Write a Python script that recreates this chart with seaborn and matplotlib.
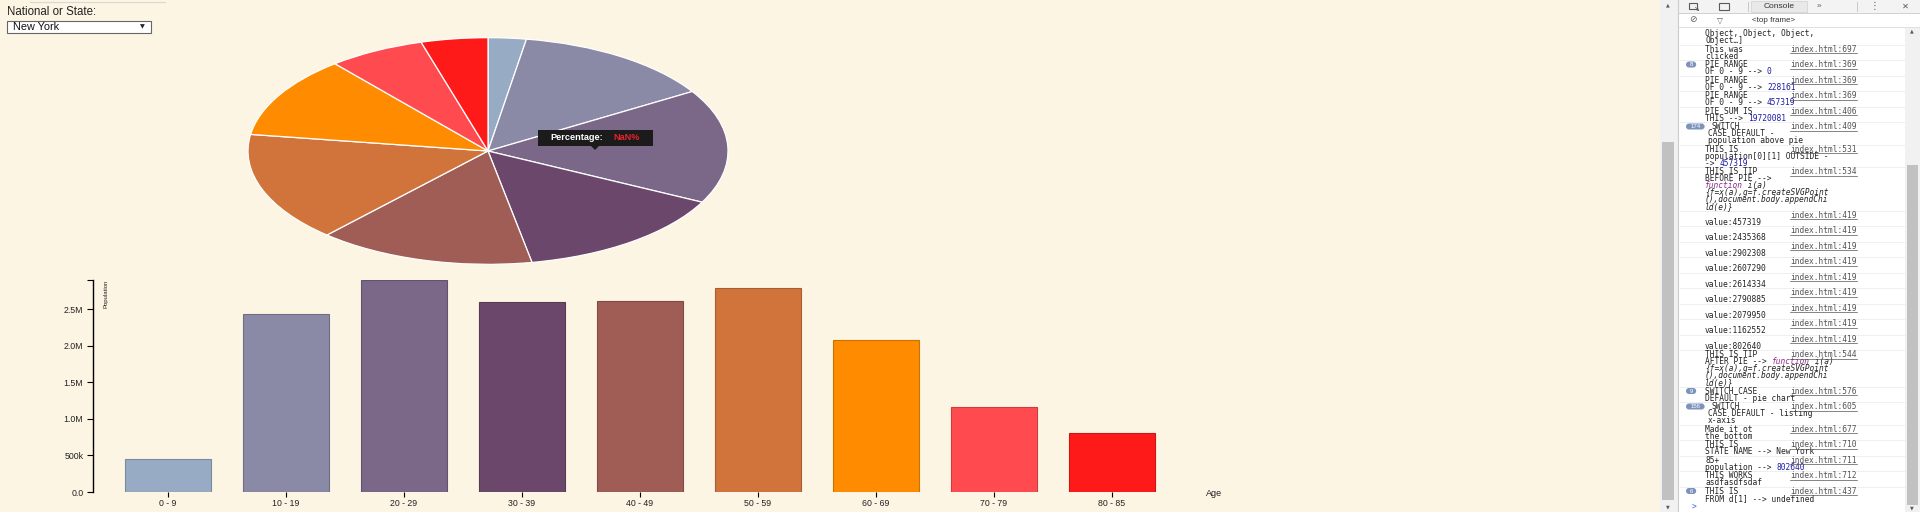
# ==========================================================
# Population by age group - pie + bar view of one state,
# with the browser console panel that sat next to it
# ==========================================================

import re

import matplotlib
matplotlib.use("Agg")
import matplotlib.pyplot as plt
import matplotlib.colors as mcolors
from matplotlib.patches import Rectangle, FancyBboxPatch, Polygon
import pandas as pd
import seaborn as sns


# ----------------------------------------------------------
# Data
# ----------------------------------------------------------
STATE = "New York"

AGE_GROUPS = ["0 - 9", "10 - 19", "20 - 29", "30 - 39", "40 - 49",
              "50 - 59", "60 - 69", "70 - 79", "80 - 85"]

POPULATION = [457319, 2435368, 2902308, 2607290, 2614334,
              2790885, 2079950, 1162552, 802640]

GROUP_COLORS = ["#98abc5", "#8a89a6", "#7b6888", "#6b486b", "#a05d56",
                "#d0743c", "#ff8c00", "#ff4b4f", "#ff1a1a"]

Y_TICKS = [0, 500000, 1000000, 1500000, 2000000, 2500000]
Y_TICK_LABELS = ["0.0", "500k", "1.0M", "1.5M", "2.0M", "2.5M"]

# console log: (badge, lines, link)
# ^..^ = number (blue), ~..~ = keyword (purple italic), `..` = italic
CONSOLE_MESSAGES = [
    (None, ["Object, Object, Object,", "Object, Object, Object,",
            "Object, Object, Object,", "Object\u2026]"], None),
    (None, ["This was", "clicked"], "index.html:697"),
    ("8", ["PIE RANGE", "OF 0 - 9 --> ^0^"], "index.html:369"),
    (None, ["PIE RANGE", "OF 0 - 9 --> ^228161^"], "index.html:369"),
    (None, ["PIE RANGE", "OF 0 - 9 --> ^457319^"], "index.html:369"),
    (None, ["PIE SUM IS", "THIS --> ^19720081^"], "index.html:406"),
    ("174", ["SWITCH", "CASE DEFAULT -", "population above pie"], "index.html:409"),
    (None, ["THIS IS", "population[0][1] OUTSIDE -", "-> ^457319^"], "index.html:531"),
    (None, ["THIS IS TIP", "BEFORE PIE -->", "~function~` i(a)`",
            "`{f=x(a),g=f.createSVGPoint`", "`(),document.body.appendChi`",
            "`ld(e)}`"], "index.html:534"),
    (None, ["", "value:457319"], "index.html:419"),
    (None, ["", "value:2435368"], "index.html:419"),
    (None, ["", "value:2902308"], "index.html:419"),
    (None, ["", "value:2607290"], "index.html:419"),
    (None, ["", "value:2614334"], "index.html:419"),
    (None, ["", "value:2790885"], "index.html:419"),
    (None, ["", "value:2079950"], "index.html:419"),
    (None, ["", "value:1162552"], "index.html:419"),
    (None, ["", "value:802640"], "index.html:419"),
    (None, ["THIS IS TIP", "AFTER PIE --> ~function~` i(a)`",
            "`{f=x(a),g=f.createSVGPoint`", "`(),document.body.appendChi`",
            "`ld(e)}`"], "index.html:544"),
    ("9", ["SWITCH CASE", "DEFAULT - pie chart"], "index.html:576"),
    ("156", ["SWITCH", "CASE DEFAULT - listing", "x-axis"], "index.html:605"),
    (None, ["Made it ot", "the bottom"], "index.html:677"),
    (None, ["THIS IS", "STATE NAME --> New York"], "index.html:710"),
    (None, ["85+", "population --> ^802640^"], "index.html:711"),
    (None, ["THIS WORKS", "asdfasdfsdaf"], "index.html:712"),
    ("6", ["THIS IS", "FROM d[1] --> undefined"], "index.html:437"),
]

W, H = 1920, 512
PAGE_BG = "#fdf5e3"

plt.rcParams["font.family"] = ["Liberation Sans", "DejaVu Sans"]


def px_rect(left, top, width, height):
    return [left / W, 1 - (top + height) / H, width / W, height / H]


def darken(color, factor=0.8):
    r, g, b = mcolors.to_rgb(color)
    return (r * factor, g * factor, b * factor)


# ----------------------------------------------------------
# 1. Pie chart (circle stretched to the page's ellipse)
# ----------------------------------------------------------
def draw_pie(fig):

    ax = fig.add_axes(px_rect(236, 32, 504, 238))
    ax.pie(
        POPULATION,
        colors=GROUP_COLORS,
        startangle=90,
        counterclock=False,
        wedgeprops=dict(edgecolor="white", linewidth=0.9),
    )
    ax.set_aspect("auto")
    ax.set_xlim(-1.05, 1.05)
    ax.set_ylim(-1.05, 1.05)
    ax.axis("off")


# ----------------------------------------------------------
# 2. Bar chart
# ----------------------------------------------------------
def draw_bars(fig):

    ax = fig.add_axes(px_rect(93, 280, 1147, 212))
    ax.set_facecolor("none")

    df = pd.DataFrame({"age": AGE_GROUPS, "population": POPULATION})

    sns.barplot(
        data=df, x="age", y="population", hue="age",
        palette=GROUP_COLORS, saturation=1, width=0.73,
        legend=False, ax=ax,
    )

    for patch, color in zip(ax.patches, GROUP_COLORS):
        patch.set_edgecolor(darken(color))
        patch.set_linewidth(0.8)

    ax.set_xlim(-0.636, 9.085)
    ax.set_ylim(0, max(POPULATION))

    for side in ["top", "right", "bottom"]:
        ax.spines[side].set_visible(False)
    ax.spines["left"].set_color("black")
    ax.spines["left"].set_linewidth(1.0)

    ax.set_yticks(Y_TICKS, Y_TICK_LABELS)
    ax.set_yticks([max(POPULATION)], minor=True)
    ax.tick_params(axis="y", which="both", length=4, width=0.8,
                   labelsize=6.3, pad=3, labelcolor="#222222")
    ax.tick_params(axis="x", length=3.5, width=0.8, labelsize=6.3,
                   pad=1.5, labelcolor="#222222")
    ax.set_xlabel("")
    ax.set_ylabel("")


# ----------------------------------------------------------
# 3. Page controls, tooltip and axis titles
# ----------------------------------------------------------
def draw_page_ui(ax):

    ax.plot([30, 165], [1.5, 1.5], color="#d6d6d6", lw=0.8)
    ax.text(7, 12, "National or State:", fontsize=8.3, color="#222222",
            va="center", ha="left")

    ax.add_patch(Rectangle((7, 21), 144, 12, fc="white", ec="#666666", lw=0.8))
    ax.text(13, 27.3, STATE, fontsize=7.8, color="#111111", va="center")
    ax.text(142, 27, "\u25bc", fontsize=4.5, color="#222222",
            va="center", ha="center", family="DejaVu Sans")

    # tooltip over the pie
    ax.add_patch(Rectangle((538, 130), 115, 16, fc="#1b1b1b", ec="none", zorder=6))
    ax.add_patch(Polygon([(591, 146), (599, 146), (595, 150)],
                         closed=True, fc="#1b1b1b", ec="none", zorder=6))
    ax.text(550, 138, "Percentage:", fontsize=6.6, fontweight="bold",
            color="white", va="center", zorder=7)
    ax.text(613, 138, "NaN%", fontsize=6.6, fontweight="bold",
            color="#e8232a", va="center", zorder=7)

    ax.text(106, 294, "Population", fontsize=4.3, rotation=90,
            color="#222222", va="center", ha="center")
    ax.text(1206, 494, "Age", fontsize=6.5, color="#222222",
            va="center", ha="left")


# ----------------------------------------------------------
# 4. DevTools console panel
# ----------------------------------------------------------
def draw_console(ax):

    gray = "#5a5a5a"
    font_size = 5.7
    char_w = 0.602 * font_size * 100 / 72
    base = 0.36 * font_size * 100 / 72      # half cap height -> baseline shift
    pitch, pad = 7.0, 1.5
    top_of_log = 30                          # rows above this hide under the header

    # page scrollbar
    ax.add_patch(Rectangle((1660, 0), 18, 512, fc="#f1f1f1", ec="none", zorder=2))
    ax.add_patch(Rectangle((1662, 142), 12, 358, fc="#c1c1c1", ec="none", zorder=2))
    ax.text(1668, 5, "\u25b2", fontsize=3.5, color=gray, ha="center",
            va="center", family="DejaVu Sans", zorder=3)
    ax.text(1668, 507, "\u25bc", fontsize=3.5, color=gray, ha="center",
            va="center", family="DejaVu Sans", zorder=3)

    # panel body
    ax.add_patch(Rectangle((1678, 0), 242, 512, fc="white", ec="none", zorder=2))
    ax.plot([1678, 1678], [0, 512], color="#cccccc", lw=0.8, zorder=6)

    # log lines
    y = 49 - pad - pitch * len(CONSOLE_MESSAGES[0][1])
    for badge, lines, link in CONSOLE_MESSAGES:
        if y > top_of_log:
            ax.plot([1680, 1905], [y - pitch / 2 - pad / 2] * 2,
                    color="#ececec", lw=0.6, zorder=3)

        x_first, x_rest = 1705, 1705
        if badge:
            bw = 6 + 4.2 * len(badge)
            ax.add_patch(FancyBboxPatch(
                (1686, y - 3), bw, 6,
                boxstyle="round,pad=0,rounding_size=3",
                fc="#7d93bd", ec="none", zorder=3))
            ax.text(1686 + bw / 2, y + 1.6, badge, fontsize=4.3, color="white",
                    ha="center", va="baseline", zorder=4)
            if len(badge) > 2:
                x_first, x_rest = 1712, 1708

        for i, line in enumerate(lines):
            row_y = y + i * pitch
            if row_y < top_of_log:
                continue
            x = x_first if i == 0 else x_rest
            for seg in re.split(r"(\^[^^]*\^|~[^~]*~|`[^`]*`)", line):
                if not seg:
                    continue
                style = dict(color="#222222", style="normal")
                if seg[0] == "^":
                    seg = seg[1:-1]
                    style["color"] = "#1a1aa6"
                elif seg[0] == "~":
                    seg = seg[1:-1]
                    style.update(color="#8e2a8e", style="italic")
                elif seg[0] == "`":
                    seg = seg[1:-1]
                    style["style"] = "italic"
                ax.text(x, row_y + base, seg, fontsize=font_size,
                        family="DejaVu Sans Mono", va="baseline", ha="left",
                        zorder=4, **style)
                x += len(seg) * char_w

        if link:
            ax.text(1790, y + base, link, fontsize=font_size, color="#545454",
                    family="DejaVu Sans Mono", va="baseline", ha="left", zorder=4)
            ax.plot([1790, 1790 + len(link) * char_w], [y + base + 1.2] * 2,
                    color="#545454", lw=0.5, zorder=4)

        y += pitch * len(lines) + pad

    ax.text(1692, y + base, ">", fontsize=font_size, color="#3868c8",
            family="DejaVu Sans Mono", va="baseline", zorder=4)

    # console scrollbar
    ax.add_patch(Rectangle((1905, 27), 15, 485, fc="#f1f1f1", ec="none", zorder=5))
    ax.add_patch(Rectangle((1907, 165), 11, 340, fc="#c1c1c1", ec="none", zorder=5))
    ax.text(1912, 31, "\u25b2", fontsize=3.5, color=gray, ha="center",
            va="center", family="DejaVu Sans", zorder=6)
    ax.text(1912, 508, "\u25bc", fontsize=3.5, color=gray, ha="center",
            va="center", family="DejaVu Sans", zorder=6)

    # toolbar
    ax.add_patch(Rectangle((1679, 0), 241, 13, fc="#f3f3f3", ec="none", zorder=5))
    ax.plot([1679, 1920], [13, 13], color="#d0d0d0", lw=0.7, zorder=6)
    ax.add_patch(Rectangle((1689, 3), 8, 6, fc="none", ec=gray, lw=0.8, zorder=6))
    ax.text(1697, 9, "\u2198", fontsize=5, color=gray, ha="center",
            va="center", family="DejaVu Sans", zorder=6)
    ax.add_patch(Rectangle((1719, 3), 10, 7, fc="none", ec=gray, lw=0.8, zorder=6))
    ax.plot([1748, 1748], [2, 11], color="#c8c8c8", lw=0.7, zorder=6)
    ax.add_patch(Rectangle((1751, 1), 56, 11, fc="#e9e9e9", ec="#d6d6d6",
                           lw=0.6, zorder=6))
    ax.text(1779, 6.5, "Console", fontsize=6.0, color="#333333",
            ha="center", va="center", zorder=7)
    ax.text(1819, 6.5, "\u00bb", fontsize=6, color=gray, ha="center",
            va="center", zorder=6)
    ax.plot([1857, 1857], [2, 11], color="#c8c8c8", lw=0.7, zorder=6)
    ax.text(1875, 6.5, "\u22ee", fontsize=7, color=gray, ha="center",
            va="center", family="DejaVu Sans", zorder=6)
    ax.text(1905, 6.5, "\u2715", fontsize=6, color=gray, ha="center",
            va="center", family="DejaVu Sans", zorder=6)

    # filter row
    ax.add_patch(Rectangle((1679, 13.5), 241, 13.5, fc="white", ec="none", zorder=5))
    ax.plot([1679, 1920], [27, 27], color="#e0e0e0", lw=0.7, zorder=6)
    ax.text(1693, 20, "\u2298", fontsize=6.5, color=gray, ha="center",
            va="center", family="DejaVu Sans", zorder=6)
    ax.text(1720, 20, "\u25bd", fontsize=5.5, color=gray, ha="center",
            va="center", family="DejaVu Sans", zorder=6)
    ax.text(1752, 20, "<top frame>", fontsize=5.8, color="#333333",
            ha="left", va="center", zorder=6)


# ----------------------------------------------------------
# 5. Main Execution
# ----------------------------------------------------------
def main():

    fig = plt.figure(figsize=(W / 100, H / 100), dpi=100, facecolor=PAGE_BG)

    draw_pie(fig)
    draw_bars(fig)

    ax_ui = fig.add_axes([0, 0, 1, 1])
    ax_ui.set_xlim(0, W)
    ax_ui.set_ylim(H, 0)
    ax_ui.axis("off")
    ax_ui.patch.set_alpha(0)

    draw_page_ui(ax_ui)
    draw_console(ax_ui)

    fig.savefig("out.png", dpi=100, facecolor=PAGE_BG)
    plt.close(fig)
    print("Chart saved to out.png")


if __name__ == "__main__":
    main()
